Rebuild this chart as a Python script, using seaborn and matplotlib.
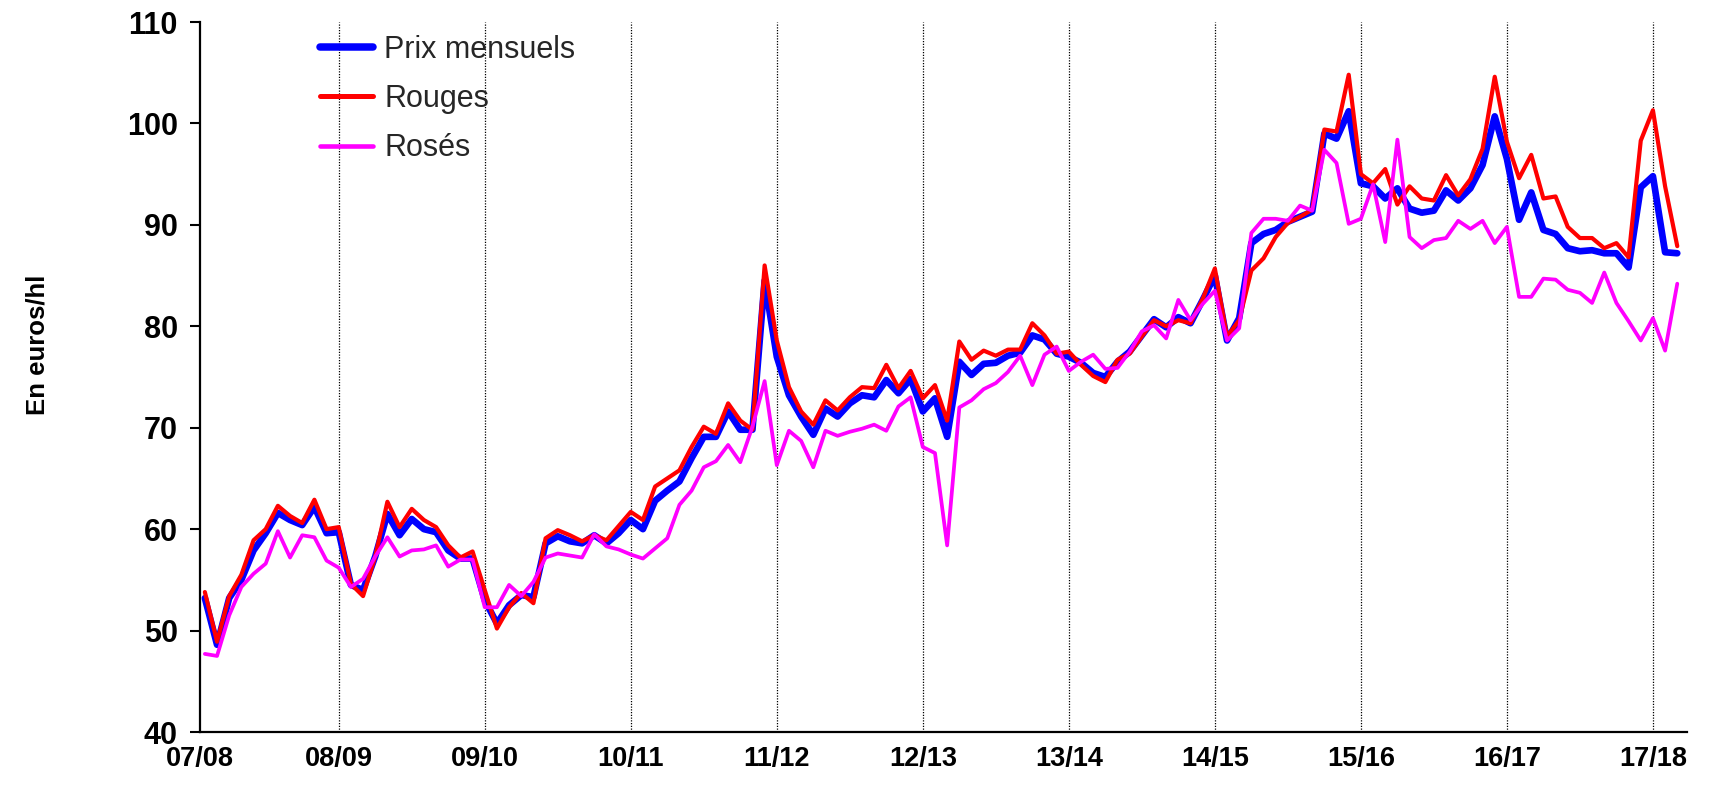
import numpy as np
import pandas as pd
import matplotlib
matplotlib.use("Agg")
import matplotlib.pyplot as plt
import seaborn as sns

# Season labels (one per marketing year, August to July)
seasons = ["07/08", "08/09", "09/10", "10/11", "11/12", "12/13",
           "13/14", "14/15", "15/16", "16/17", "17/18"]

# Monthly prices in euros/hl, from the first month of 07/08 onwards
prix_mensuels = [
    53.2, 48.6, 53.2, 55.0, 57.9, 59.6, 61.6, 60.9, 60.4, 62.2, 59.6, 59.7,
    54.5, 54.0, 57.3, 61.5, 59.4, 61.0, 60.0, 59.7, 57.9, 57.1, 57.1, 53.0,
    50.7, 52.5, 53.5, 53.3, 58.6, 59.3, 58.8, 58.6, 59.4, 58.6, 59.6, 60.9,
    60.0, 62.8, 63.8, 64.7, 67.0, 69.1, 69.1, 71.6, 69.8, 69.8, 84.5, 77.0,
    73.2, 71.1, 69.3, 71.9, 71.1, 72.4, 73.2, 73.0, 74.7, 73.4, 74.8, 71.6,
    72.9, 69.1, 76.5, 75.2, 76.3, 76.4, 77.1, 77.4, 79.1, 78.7, 77.3, 77.0,
    76.4, 75.4, 75.0, 76.5, 77.5, 79.1, 80.7, 79.9, 80.9, 80.3, 82.6, 85.0,
    78.6, 80.8, 88.2, 89.1, 89.5, 90.3, 90.8, 91.3, 99.0, 98.5, 101.2, 94.1,
    93.8, 92.6, 93.6, 91.6, 91.2, 91.4, 93.4, 92.4, 93.6, 95.9, 100.7, 96.5,
    90.5, 93.2, 89.5, 89.1, 87.7, 87.4, 87.5, 87.2, 87.2, 85.8, 93.7, 94.8,
    87.3, 87.2,
]

rouges = [
    53.8, 48.9, 53.4, 55.5, 58.9, 60.0, 62.3, 61.3, 60.6, 62.9, 60.0, 60.2,
    54.6, 53.4, 57.3, 62.7, 60.2, 62.0, 60.9, 60.2, 58.4, 57.2, 57.8, 54.0,
    50.2, 52.3, 53.7, 52.7, 59.1, 59.9, 59.4, 58.8, 59.4, 58.9, 60.3, 61.7,
    60.9, 64.2, 65.0, 65.8, 68.1, 70.1, 69.4, 72.4, 70.7, 69.8, 86.0, 78.6,
    74.0, 71.6, 70.3, 72.7, 71.7, 73.0, 74.0, 73.9, 76.2, 73.9, 75.6, 72.9,
    74.2, 70.7, 78.5, 76.7, 77.6, 77.1, 77.7, 77.7, 80.3, 79.1, 77.3, 77.5,
    76.2, 75.1, 74.5, 76.7, 77.3, 79.0, 80.6, 80.0, 80.6, 80.3, 82.7, 85.7,
    79.0, 80.6, 85.5, 86.7, 88.8, 90.2, 90.8, 91.5, 99.4, 99.2, 104.8, 95.0,
    94.1, 95.5, 92.0, 93.8, 92.6, 92.4, 94.9, 92.9, 94.5, 97.5, 104.6, 98.2,
    94.6, 96.9, 92.6, 92.8, 89.8, 88.7, 88.7, 87.7, 88.2, 86.8, 98.3, 101.3,
    93.8, 87.9,
]

roses = [
    47.7, 47.5, 51.5, 54.3, 55.6, 56.6, 59.8, 57.2, 59.4, 59.2, 56.9, 56.2,
    54.3, 55.1, 57.3, 59.2, 57.3, 57.9, 58.0, 58.4, 56.3, 57.0, 57.0, 52.3,
    52.3, 54.5, 53.4, 54.8, 57.2, 57.6, 57.4, 57.2, 59.5, 58.3, 58.0, 57.5,
    57.1, 58.1, 59.1, 62.4, 63.8, 66.1, 66.7, 68.3, 66.6, 70.1, 74.6, 66.3,
    69.7, 68.7, 66.1, 69.7, 69.2, 69.6, 69.9, 70.3, 69.7, 72.1, 73.0, 68.1,
    67.5, 58.4, 72.0, 72.7, 73.8, 74.4, 75.5, 77.1, 74.2, 77.2, 78.0, 75.6,
    76.5, 77.2, 75.8, 75.9, 77.5, 79.5, 80.1, 78.8, 82.6, 80.6, 82.2, 83.5,
    78.6, 79.8, 89.2, 90.6, 90.6, 90.4, 91.9, 91.4, 97.4, 96.1, 90.1, 90.6,
    94.0, 88.3, 98.4, 88.8, 87.7, 88.5, 88.7, 90.4, 89.6, 90.4, 88.2, 89.8,
    82.9, 82.9, 84.7, 84.6, 83.6, 83.3, 82.3, 85.3, 82.3, 80.5, 78.6, 80.8,
    77.6, 84.2,
]

series_names = ["Prix mensuels", "Rouges", "Rosés"]
series_colors = {"Prix mensuels": "#0000FF", "Rouges": "#FF0000", "Rosés": "#FF00FF"}
series_widths = {"Prix mensuels": 4.8, "Rouges": 3.0, "Rosés": 2.7}

months = np.arange(1, len(prix_mensuels) + 1)
df = pd.DataFrame({
    "mois": np.tile(months, 3),
    "prix": prix_mensuels + rouges + roses,
    "serie": np.repeat(series_names, len(months)),
})

sns.set_style("white")
plt.rcParams["font.family"] = ["Liberation Sans", "DejaVu Sans"]

fig = plt.figure(figsize=(17.18, 7.95), dpi=100)
ax = fig.add_axes([200 / 1718, 63 / 795, 1487 / 1718, 710 / 795])

x_min, x_max = 0.6, 122.8

# Dotted vertical separators at each season start
for i in range(1, len(seasons)):
    ax.axvline(12 * i, color="black", lw=0.9, ls=(0, (1, 1.2)), zorder=1)

for name in series_names:
    sns.lineplot(data=df[df["serie"] == name], x="mois", y="prix",
                 color=series_colors[name], lw=series_widths[name],
                 label=name, ax=ax, zorder=3, legend=False)

ax.set_xlim(x_min, x_max)
ax.set_ylim(40, 110)
ax.set_yticks(np.arange(40, 111, 10))
tick_pos = [x_min] + [12 * i for i in range(1, len(seasons))]
ax.set_xticks(tick_pos)
ax.set_xticklabels(seasons)

for lab in ax.get_xticklabels() + ax.get_yticklabels():
    lab.set_fontweight("bold")
ax.tick_params(axis="y", direction="out", length=7, width=1.5, labelsize=22,
               pad=9, colors="black", left=True)
ax.tick_params(axis="x", direction="out", length=0, labelsize=19.5, pad=10,
               colors="black", bottom=True)

for side in ["top", "right"]:
    ax.spines[side].set_visible(False)
for side in ["left", "bottom"]:
    ax.spines[side].set_color("black")
    ax.spines[side].set_linewidth(1.6)

ax.set_xlabel("")
ax.set_ylabel("En euros/hl", fontsize=18.5, fontweight="bold", color="black")
ax.yaxis.set_label_coords(-0.101, 0.545)

handles = [plt.Line2D([], [], color=series_colors[n], lw=series_widths[n] + 0.6)
           for n in series_names]
ax.legend(handles, series_names, loc="upper left",
          bbox_to_anchor=(0.0807, 0.982), frameon=False, fontsize=22,
          handlelength=1.75, handletextpad=0.35, labelspacing=0.63,
          borderpad=0, borderaxespad=0)

fig.savefig("out.png", dpi=100, facecolor="white")
